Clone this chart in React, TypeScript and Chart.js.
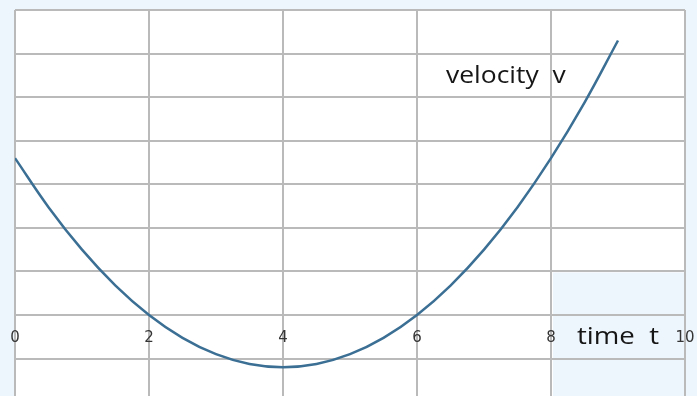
import React, { useEffect, useRef } from "react";
import { Chart, registerables } from "chart.js";

Chart.register(...registerables);

// Sampled velocity curve v(t)
const timeValues = [0, 0.5, 1, 1.5, 2, 2.5, 3, 3.5, 4, 4.5, 5, 5.5, 6, 6.5, 7, 7.5, 8, 8.5, 9];
const velocityValues = [3.6, 2.475, 1.5, 0.675, 0, -0.525, -0.9, -1.125, -1.2, -1.125, -0.9, -0.525, 0, 0.675, 1.5, 2.475, 3.6, 4.875, 6.3];

const xTickLabels = ["0", "2", "4", "6", "8", "10"];
const xTickValues = [0, 2, 4, 6, 8, 10];
const yGridValues = [-1, 0, 1, 2, 3, 4, 5, 6, 7];

const yLabel = "velocity  v";
const xLabel = "time  t";

const PAGE_BG = "#eef6fd";
const GRID = "#bababa";

// Draws text stretched horizontally by a factor, anchored at its left edge
function wideText(ctx: CanvasRenderingContext2D, text: string, x: number, y: number, stretch: number) {
  ctx.save();
  ctx.translate(x, y);
  ctx.scale(stretch, 1);
  ctx.fillText(text, 0, 0);
  ctx.restore();
}

const decorations = {
  id: "decorations",
  beforeDraw(chart: any) {
    const { ctx, chartArea: a, scales } = chart;
    ctx.save();
    ctx.fillStyle = PAGE_BG;
    ctx.fillRect(0, 0, chart.width, chart.height);
    ctx.fillStyle = "#ffffff";
    ctx.fillRect(a.left, a.top, a.right - a.left, a.bottom - a.top);
    // tinted box behind the horizontal-axis caption
    const x0 = scales.x.getPixelForValue(8);
    const x1 = scales.x.getPixelForValue(10);
    const y0 = scales.y.getPixelForValue(1);
    ctx.fillStyle = PAGE_BG;
    ctx.fillRect(x0 + 2, y0 + 1, x1 - x0 - 2, a.bottom - y0);
    ctx.restore();
  },
  afterDatasetsDraw(chart: any) {
    const { ctx, scales } = chart;
    const zeroY = scales.y.getPixelForValue(0);
    ctx.save();
    ctx.textAlign = "center";
    ctx.textBaseline = "middle";
    ctx.fillStyle = "#353535";
    ctx.font = "15px 'DejaVu Sans', sans-serif";
    xTickValues.forEach((v, i) => {
      ctx.fillText(xTickLabels[i], scales.x.getPixelForValue(v), zeroY + 23);
    });
    ctx.fillStyle = "#161616";
    ctx.textAlign = "left";
    ctx.textBaseline = "alphabetic";
    ctx.font = "500 23px 'Open Sans', sans-serif";
    wideText(ctx, yLabel, 446, 83, 1.15);
    ctx.font = "500 24px 'Open Sans', sans-serif";
    wideText(ctx, xLabel, 577, zeroY + 29, 1.15);
    ctx.restore();
  },
};

export default function App() {
  const canvasRef = useRef<HTMLCanvasElement | null>(null);

  useEffect(() => {
    document.body.style.margin = "0";
    const canvas = canvasRef.current;
    if (!canvas) return;
    const chart = new Chart(canvas, {
      type: "line",
      data: {
        datasets: [
          {
            data: timeValues.map((t, i) => ({ x: t, y: velocityValues[i] })),
            borderColor: "#3b6f94",
            borderWidth: 2.5,
            pointRadius: 0,
            fill: false,
            tension: 0.4,
          },
        ],
      },
      options: {
        animation: false,
        responsive: false,
        layout: { padding: { left: 15, right: 12, top: 10, bottom: 0 } },
        plugins: { legend: { display: false }, tooltip: { enabled: false } },
        scales: {
          x: {
            type: "linear",
            min: 0,
            max: 10,
            afterBuildTicks: (scale: any) => {
              scale.ticks = xTickValues.map((v) => ({ value: v }));
            },
            ticks: { display: false },
            grid: { color: GRID, lineWidth: 2, drawTicks: false },
            border: { display: false },
          },
          y: {
            type: "linear",
            min: -1.86,
            max: 7,
            afterBuildTicks: (scale: any) => {
              scale.ticks = yGridValues.map((v) => ({ value: v }));
            },
            ticks: { display: false },
            grid: { color: GRID, lineWidth: 2, drawTicks: false },
            border: { display: false },
          },
        },
      },
      plugins: [decorations],
    });
    return () => chart.destroy();
  }, []);

  return (
    <div style={{ position: "absolute", left: 0, top: 0, width: 697, height: 396 }}>
      <canvas ref={canvasRef} width={697} height={396} />
    </div>
  );
}
